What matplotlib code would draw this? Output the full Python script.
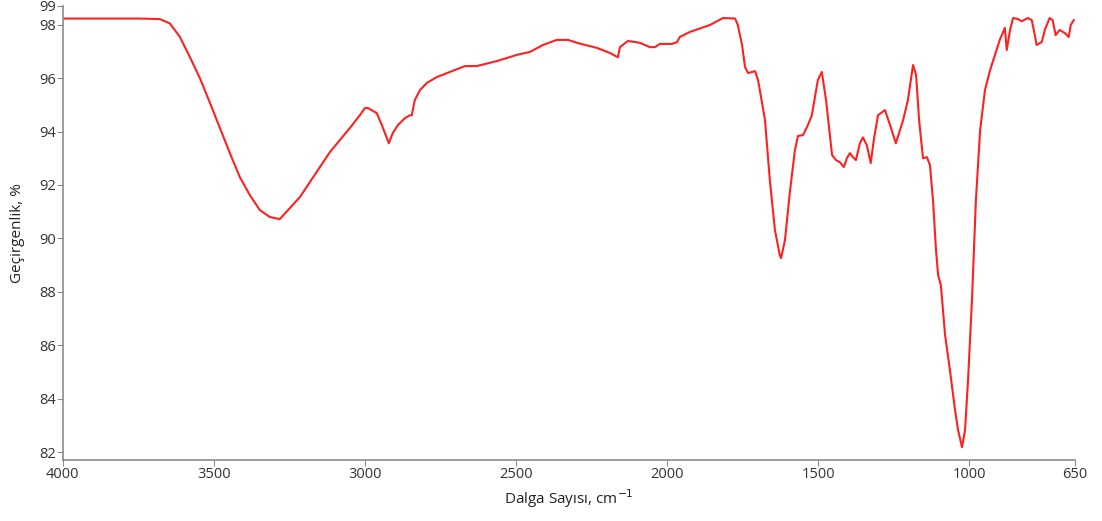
import matplotlib.pyplot as plt
import numpy as np

plt.rcParams['font.family'] = ['Open Sans', 'DejaVu Sans']

# FTIR spectrum: wavenumber (cm-1) vs transmittance (%)
wavenumber = [4000, 3750, 3679, 3646, 3613, 3580, 3546, 3513, 3480, 3447, 3414, 3381,
              3348, 3315, 3282, 3249, 3215, 3182, 3149, 3116, 3083, 3050, 3017, 3000,
              2990, 2961, 2944, 2934, 2921, 2908, 2891, 2868, 2851, 2845, 2835, 2818,
              2795, 2762, 2719, 2669, 2630, 2563, 2497, 2454, 2411, 2365, 2328, 2295,
              2232, 2189, 2163, 2156, 2130, 2090, 2057, 2040, 2024, 1984, 1967, 1958,
              1924, 1858, 1815, 1775, 1766, 1752, 1742, 1732, 1709, 1699,
              1676, 1660, 1643, 1627, 1623, 1610, 1593, 1577,
              1567, 1550, 1534, 1521, 1501, 1488, 1474, 1454, 1441, 1428, 1415, 1405,
              1395, 1385, 1375, 1362, 1352, 1339, 1326, 1316, 1302, 1279, 1262, 1243,
              1219, 1203, 1186, 1176, 1166, 1153, 1140, 1130, 1120, 1110, 1103, 1094,
              1080, 1064, 1047, 1037, 1024, 1014, 1004, 991, 978, 964, 948, 931,
              915, 899, 889, 882, 876, 865, 855, 839, 826, 806, 793, 783,
              777, 760, 750, 734, 724, 714, 701, 684, 671, 664, 654]
transmittance = [98.23, 98.23, 98.21, 98.05, 97.55, 96.80, 95.99, 95.07, 94.13, 93.19, 92.29, 91.62,
                 91.06, 90.80, 90.72, 91.13, 91.55, 92.11, 92.67, 93.23, 93.68, 94.13, 94.61, 94.88,
                 94.88, 94.69, 94.24, 93.94, 93.56, 93.94, 94.24, 94.50, 94.61, 94.61, 95.18, 95.55,
                 95.82, 96.04, 96.23, 96.45, 96.45, 96.64, 96.87, 96.98, 97.24, 97.43, 97.43, 97.31,
                 97.13, 96.94, 96.78, 97.16, 97.39, 97.32, 97.16, 97.16, 97.28, 97.28, 97.35, 97.54,
                 97.73, 97.99, 98.25, 98.23, 97.99, 97.24, 96.41, 96.19, 96.26, 95.93,
                 94.43, 92.18, 90.30, 89.37, 89.26, 89.93, 91.80, 93.30,
                 93.83, 93.87, 94.24, 94.61, 95.93, 96.23, 95.18, 93.12, 92.93, 92.85, 92.67, 93.00,
                 93.19, 93.04, 92.93, 93.56, 93.78, 93.49, 92.82, 93.68, 94.61, 94.80, 94.24, 93.56,
                 94.42, 95.18, 96.49, 96.12, 94.43, 93.00, 93.04, 92.74, 91.43, 89.56, 88.62, 88.25,
                 86.38, 85.07, 83.57, 82.82, 82.18, 82.82, 84.69, 87.69, 91.43, 94.05, 95.55, 96.30,
                 96.86, 97.43, 97.69, 97.88, 97.05, 97.80, 98.25, 98.21, 98.13, 98.25, 98.17, 97.61,
                 97.24, 97.35, 97.80, 98.25, 98.17, 97.61, 97.80, 97.69, 97.54, 97.99, 98.17]

xticks = [4000, 3500, 3000, 2500, 2000, 1500, 1000, 650]
yticks = [82, 84, 86, 88, 90, 92, 94, 96, 98]

fig = plt.figure(figsize=(11.02, 5.21), dpi=100)
ax = fig.add_axes([0.057, 0.117, 0.9185, 0.8715])

ax.plot(wavenumber, transmittance, color='#ff2020', lw=1.5, solid_joinstyle='round')

ax.set_xlim(4000, 650)
ax.set_ylim(81.7, 98.7)
ax.set_xticks(xticks)
ax.set_xticklabels([str(t) for t in xticks])
ax.set_yticks(yticks + [98.7])
ax.set_yticklabels([str(t) for t in yticks] + ['99'])

for s in ['top', 'right']:
    ax.spines[s].set_visible(False)
for s in ['left', 'bottom']:
    ax.spines[s].set_color('#8c8c8c')
    ax.spines[s].set_linewidth(1.2)
ax.tick_params(colors='#8c8c8c', labelcolor='#333333', labelsize=10.5, length=4, pad=1)

ax.set_xlabel('Dalga Sayısı, cm$^{-1}$', fontsize=11, color='#222222', labelpad=4)
ax.set_ylabel('Geçirgenlik, %', fontsize=11, color='#222222', labelpad=10)

fig.savefig('out.png', dpi=100)
